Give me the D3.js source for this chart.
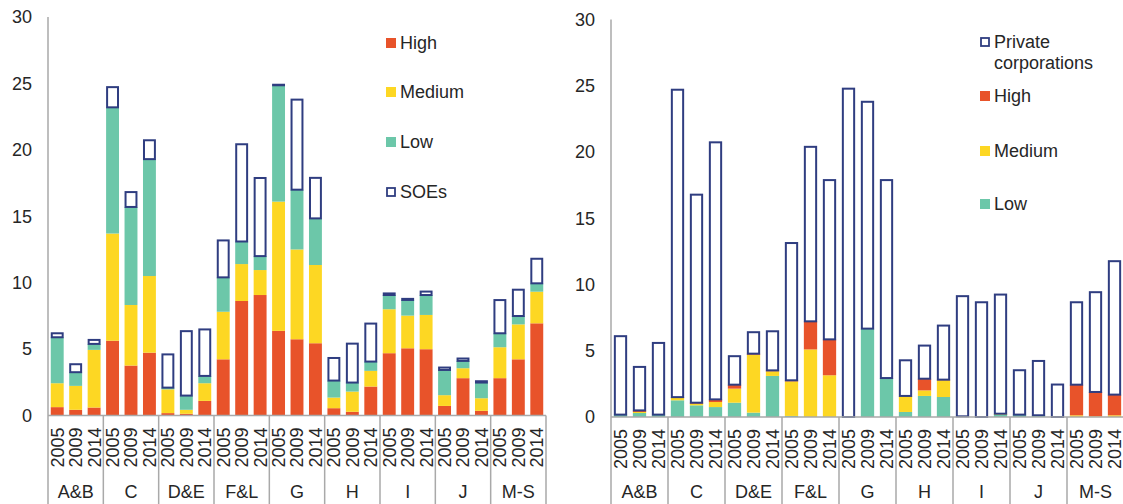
<!DOCTYPE html>
<html>
<head>
<meta charset="utf-8">
<script src="https://cdn.jsdelivr.net/npm/d3@7"></script>
<style>
  body { margin: 0; background: #fff; }
  text { font-family: "Liberation Sans", Arial, sans-serif; fill: #262626; }
</style>
</head>
<body>
<svg id="chart" width="1123" height="504"></svg>
<script>
// Categories
const groups = ['A&B', 'C', 'D&E', 'F&L', 'G', 'H', 'I', 'J', 'M-S'];
const years = ['2005', '2009', '2014'];
const yTicks = [0, 5, 10, 15, 20, 25, 30];

// Left panel (SOEs): segment heights, order group x year
const soeHigh   = [0.63, 0.43, 0.60, 5.63, 3.76, 4.73, 0.18, 0.13, 1.10, 4.23, 8.62, 9.07, 6.37, 5.74, 5.44, 0.55, 0.28, 2.18, 4.69, 5.06, 4.99, 0.72, 2.81, 0.35, 2.81, 4.23, 6.94];
const soeMedium = [1.80, 1.80, 4.34, 8.07, 4.56, 5.77, 1.79, 0.30, 1.33, 3.58, 2.78, 1.88, 9.73, 6.76, 5.89, 0.80, 1.52, 1.18, 3.31, 2.46, 2.58, 0.81, 0.75, 0.95, 2.33, 2.63, 2.38];
const soeLow    = [3.46, 1.03, 0.45, 9.50, 7.38, 8.80, 0.13, 1.07, 0.55, 2.59, 1.70, 1.05, 8.76, 4.50, 3.51, 1.28, 0.68, 0.70, 1.07, 1.18, 1.50, 1.90, 0.55, 1.18, 1.05, 0.63, 0.63];
const soeRest   = [0.30, 0.60, 0.30, 1.52, 1.12, 1.42, 2.50, 4.85, 3.50, 2.78, 7.32, 5.88, 0.04, 6.78, 3.05, 1.70, 2.93, 2.86, 0.12, 0.08, 0.26, 0.18, 0.18, 0.10, 2.50, 1.98, 1.85];

// Right panel (private corporations): segment heights
const pcLow    = [0.18, 0.30, 0.18, 1.26, 0.88, 0.75, 1.08, 0.33, 3.10, 0.08, 0.00, 0.00, 0.00, 6.67, 2.94, 0.38, 1.59, 1.51, 0.05, 0.00, 0.18, 0.18, 0.13, 0.00, 0.00, 0.00, 0.00];
const pcMedium = [0.00, 0.08, 0.00, 0.20, 0.12, 0.38, 1.06, 4.37, 0.35, 2.61, 5.10, 3.15, 0.00, 0.00, 0.00, 1.21, 0.42, 1.26, 0.00, 0.00, 0.07, 0.00, 0.00, 0.00, 0.13, 0.05, 0.13];
const pcHigh   = [0.00, 0.12, 0.00, 0.04, 0.08, 0.20, 0.30, 0.08, 0.07, 0.08, 2.12, 2.71, 0.00, 0.00, 0.00, 0.00, 0.88, 0.05, 0.00, 0.00, 0.00, 0.00, 0.00, 0.00, 2.31, 1.84, 1.56];
const pcRest   = [5.92, 3.28, 5.41, 23.2, 15.7, 19.4, 2.15, 1.62, 2.95, 10.36, 13.17, 12.02, 24.78, 17.12, 14.94, 2.69, 2.50, 4.08, 9.07, 8.66, 8.99, 3.35, 4.10, 2.45, 6.22, 7.53, 10.07];

const colors = {High: '#E8532A', Medium: '#FDD723', Low: '#6CC7A9', box: '#2F3D80'};
const axisColor = '#A9A9A9';

const svg = d3.select('#chart');

function buildRows(seriesMap) {
    const rows = [];
    groups.forEach((g, gi) => {
        years.forEach((yr, yi) => {
            const i = gi * 3 + yi;
            const row = {group: g, year: yr};
            Object.keys(seriesMap).forEach(k => row[k] = seriesMap[k][i]);
            rows.push(row);
        });
    });
    return rows;
}

function drawPanel(cfg) {
    const g = svg.append('g');
    const x = d3.scaleBand().domain(groups).range([cfg.x0, cfg.x1]).padding(0);
    const xi = d3.scaleBand().domain(years).range([0, x.bandwidth()])
        .paddingInner(0.3).paddingOuter(0.15);
    const y = d3.scaleLinear().domain([0, 30]).range([cfg.yZero, cfg.yTop]);

    const rows = buildRows(cfg.series);
    const stacked = d3.stack().keys(cfg.keys)(rows);

    stacked.forEach(layer => {
        const isBox = layer.key === 'Rest';
        g.append('g').selectAll('rect')
            .data(layer)
            .join('rect')
            .attr('x', d => x(d.data.group) + xi(d.data.year) + (isBox ? 1 : 0))
            .attr('width', xi.bandwidth() - (isBox ? 2 : 0))
            .attr('y', d => y(d[1]))
            .attr('height', d => Math.max(0, y(d[0]) - y(d[1])))
            .attr('fill', isBox ? '#fff' : colors[layer.key])
            .attr('stroke', isBox ? colors.box : 'none')
            .attr('stroke-width', isBox ? 2 : 0);
    });

    // y axis labels
    const axis = d3.axisLeft(y).tickValues(yTicks).tickSize(0).tickPadding(16);
    const ag = g.append('g').attr('transform', `translate(${cfg.x0},0)`).call(axis);
    ag.select('.domain').remove();
    ag.selectAll('text').style('font-size', '18px')
        .style('font-family', '"Liberation Sans", Arial, sans-serif').attr('fill', '#262626');

    // axis lines
    g.append('line').attr('x1', cfg.x0).attr('x2', cfg.x0)
        .attr('y1', cfg.yTop).attr('y2', 504)
        .attr('stroke', axisColor).attr('stroke-width', 1.5);
    g.append('line').attr('x1', cfg.x0).attr('x2', cfg.x1)
        .attr('y1', cfg.yZero).attr('y2', cfg.yZero)
        .attr('stroke', axisColor).attr('stroke-width', 1.5);
    groups.forEach((gr, i) => {
        const xe = x(gr) + x.bandwidth();
        g.append('line').attr('x1', xe).attr('x2', xe)
            .attr('y1', cfg.yZero).attr('y2', 504)
            .attr('stroke', axisColor).attr('stroke-width', 1.5);
    });

    // year labels
    g.append('g').selectAll('text')
        .data(rows)
        .join('text')
        .attr('transform', d => `translate(${x(d.group) + xi(d.year) + xi.bandwidth() / 2},${cfg.yZero + 12}) rotate(-90)`)
        .attr('text-anchor', 'end')
        .attr('dy', '0.36em')
        .style('font-size', '18px')
        .text(d => d.year);

    // group labels
    g.append('g').selectAll('text')
        .data(groups)
        .join('text')
        .attr('x', d => x(d) + x.bandwidth() / 2)
        .attr('y', 492)
        .attr('dy', '0.36em')
        .attr('text-anchor', 'middle')
        .style('font-size', '18px')
        .text(d => d);

    // legend
    const lg = g.append('g');
    cfg.legend.forEach(item => {
        if (item.key === 'Rest') {
            lg.append('rect').attr('x', cfg.legendX + 1).attr('y', item.y - 4)
                .attr('width', 8).attr('height', 8)
                .attr('fill', '#fff').attr('stroke', colors.box).attr('stroke-width', 1.8);
        } else {
            lg.append('rect').attr('x', cfg.legendX).attr('y', item.y - 5)
                .attr('width', 10).attr('height', 10).attr('fill', colors[item.key]);
        }
        item.lines.forEach((ln, li) => {
            lg.append('text').attr('x', cfg.legendX + 14).attr('y', item.y + li * 21)
                .attr('dy', '0.36em').style('font-size', '18px').text(ln);
        });
    });
}

drawPanel({
    x0: 48, x1: 546, yZero: 415.5, yTop: 17,
    keys: ['High', 'Medium', 'Low', 'Rest'],
    series: {High: soeHigh, Medium: soeMedium, Low: soeLow, Rest: soeRest},
    legendX: 386,
    legend: [
        {key: 'High', y: 43, lines: ['High']},
        {key: 'Medium', y: 92, lines: ['Medium']},
        {key: 'Low', y: 142, lines: ['Low']},
        {key: 'Rest', y: 192, lines: ['SOEs']}
    ]
});

drawPanel({
    x0: 611, x1: 1124, yZero: 417, yTop: 19.5,
    keys: ['Low', 'Medium', 'High', 'Rest'],
    series: {Low: pcLow, Medium: pcMedium, High: pcHigh, Rest: pcRest},
    legendX: 980,
    legend: [
        {key: 'Rest', y: 42, lines: ['Private', 'corporations']},
        {key: 'High', y: 96, lines: ['High']},
        {key: 'Medium', y: 151, lines: ['Medium']},
        {key: 'Low', y: 204, lines: ['Low']}
    ]
});
</script>
</body>
</html>
